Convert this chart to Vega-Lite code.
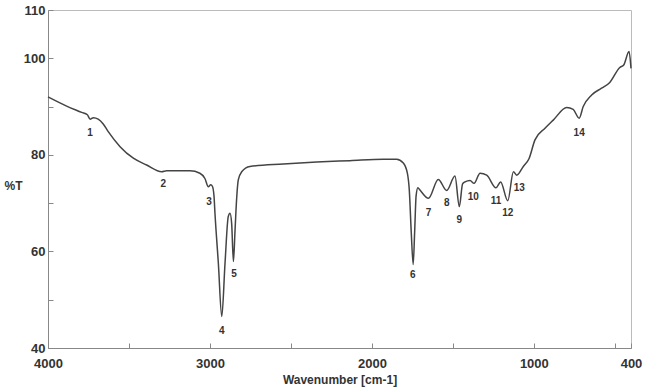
{
  "$schema": "https://vega.github.io/schema/vega-lite/v6.json",
  "width": 583,
  "height": 338,
  "autosize": {"type": "none"},
  "padding": {"left": 48, "top": 10, "right": 14, "bottom": 44},
  "background": "white",
  "config": {
    "view": {"stroke": "#bbbbbb", "strokeWidth": 1},
    "font": "Liberation Sans"
  },
  "datasets": {
    "spectrum": [
      {"wn": 4000, "t": 92.0}, {"wn": 3885, "t": 90.1}, {"wn": 3792, "t": 88.8}, {"wn": 3757, "t": 88.3},
      {"wn": 3740, "t": 87.4}, {"wn": 3720, "t": 87.7}, {"wn": 3690, "t": 87.4}, {"wn": 3659, "t": 86.4},
      {"wn": 3628, "t": 84.8}, {"wn": 3555, "t": 81.7}, {"wn": 3473, "t": 79.3}, {"wn": 3391, "t": 77.9},
      {"wn": 3298, "t": 76.5}, {"wn": 3267, "t": 76.7}, {"wn": 3123, "t": 76.7}, {"wn": 3062, "t": 76.2},
      {"wn": 3031, "t": 75.1}, {"wn": 3010, "t": 73.4}, {"wn": 2995, "t": 73.8}, {"wn": 2985, "t": 73.5},
      {"wn": 2975, "t": 71.5}, {"wn": 2969, "t": 67.9}, {"wn": 2948, "t": 57.5}, {"wn": 2927, "t": 46.5},
      {"wn": 2907, "t": 57.5}, {"wn": 2887, "t": 67.2}, {"wn": 2876, "t": 67.9}, {"wn": 2866, "t": 65.8},
      {"wn": 2855, "t": 57.9}, {"wn": 2845, "t": 64.4}, {"wn": 2835, "t": 71.0}, {"wn": 2825, "t": 74.8},
      {"wn": 2804, "t": 76.5}, {"wn": 2753, "t": 77.6}, {"wn": 2547, "t": 78.1}, {"wn": 2341, "t": 78.5},
      {"wn": 2135, "t": 78.8}, {"wn": 1929, "t": 79.1}, {"wn": 1847, "t": 79.1}, {"wn": 1806, "t": 78.3},
      {"wn": 1781, "t": 76.2}, {"wn": 1769, "t": 72.7}, {"wn": 1757, "t": 64.0}, {"wn": 1745, "t": 57.3},
      {"wn": 1736, "t": 64.0}, {"wn": 1727, "t": 71.5}, {"wn": 1716, "t": 73.2}, {"wn": 1703, "t": 72.7},
      {"wn": 1651, "t": 71.0}, {"wn": 1590, "t": 74.9}, {"wn": 1538, "t": 72.6}, {"wn": 1487, "t": 75.6},
      {"wn": 1460, "t": 69.3}, {"wn": 1440, "t": 74.0}, {"wn": 1425, "t": 74.4}, {"wn": 1394, "t": 74.7},
      {"wn": 1369, "t": 74.1}, {"wn": 1332, "t": 76.2}, {"wn": 1291, "t": 75.8}, {"wn": 1234, "t": 73.2},
      {"wn": 1205, "t": 74.4}, {"wn": 1161, "t": 70.5}, {"wn": 1126, "t": 76.5}, {"wn": 1106, "t": 75.8},
      {"wn": 1065, "t": 77.6}, {"wn": 1030, "t": 79.2}, {"wn": 993, "t": 83.1}, {"wn": 931, "t": 85.5},
      {"wn": 880, "t": 87.2}, {"wn": 797, "t": 89.8}, {"wn": 757, "t": 89.4}, {"wn": 720, "t": 87.6},
      {"wn": 695, "t": 90.0}, {"wn": 643, "t": 92.4}, {"wn": 582, "t": 93.8}, {"wn": 531, "t": 95.0},
      {"wn": 469, "t": 98.1}, {"wn": 445, "t": 98.6}, {"wn": 412, "t": 101.4}, {"wn": 400, "t": 97.9}
    ],
    "labels": [
      {"wn": 3740, "t": 84.5, "label": "1"}, {"wn": 3288, "t": 74.0, "label": "2"},
      {"wn": 3006, "t": 70.3, "label": "3"}, {"wn": 2927, "t": 43.6, "label": "4"},
      {"wn": 2851, "t": 55.3, "label": "5"}, {"wn": 1748, "t": 55.1, "label": "6"},
      {"wn": 1651, "t": 68.0, "label": "7"}, {"wn": 1538, "t": 70.0, "label": "8"},
      {"wn": 1460, "t": 66.5, "label": "9"}, {"wn": 1374, "t": 71.3, "label": "10"},
      {"wn": 1234, "t": 70.5, "label": "11"}, {"wn": 1161, "t": 67.9, "label": "12"},
      {"wn": 1090, "t": 73.2, "label": "13"}, {"wn": 720, "t": 84.6, "label": "14"}
    ]
  },
  "encoding": {
    "x": {
      "field": "wn", "type": "quantitative",
      "scale": {"domain": [400, 4000], "reverse": true, "nice": false, "zero": false},
      "axis": {
        "title": "Wavenumber [cm-1]",
        "values": [4000, 3500, 3000, 2500, 2000, 1500, 1000, 500, 400],
        "labelExpr": "indexof([4000,3000,2000,1000,400], datum.value) >= 0 ? datum.label : ''",
        "format": "d",
        "grid": false,
        "tickSize": -5,
        "tickColor": "#888888",
        "domainColor": "#888888",
        "labelFont": "Liberation Sans", "labelFontWeight": "bold", "labelFontSize": 13, "labelColor": "#333333",
        "labelPadding": 14, "labelFlush": false, "labelOverlap": false,
        "titleFont": "Liberation Sans", "titleFontWeight": "bold", "titleFontSize": 12, "titleColor": "#333333",
        "titlePadding": 4
      }
    },
    "y": {
      "field": "t", "type": "quantitative",
      "scale": {"domain": [40, 110], "nice": false, "zero": false},
      "axis": {
        "title": "%T",
        "values": [40, 50, 60, 70, 80, 90, 100, 110],
        "labelExpr": "indexof([40,60,80,100,110], datum.value) >= 0 ? datum.label : ''",
        "grid": false,
        "tickSize": -5,
        "tickColor": "#888888",
        "domainColor": "#888888",
        "labelFont": "Liberation Sans", "labelFontWeight": "bold", "labelFontSize": 13, "labelColor": "#333333",
        "labelPadding": 8, "labelFlush": false, "labelOverlap": false,
        "titleFont": "Liberation Sans", "titleFontWeight": "bold", "titleFontSize": 12, "titleColor": "#333333",
        "titleAngle": 0, "titleX": -35, "titleY": 175, "titleAlign": "center", "titleBaseline": "middle"
      }
    }
  },
  "layer": [
    {
      "data": {"name": "spectrum"},
      "mark": {"type": "line", "color": "#444444", "strokeWidth": 1.5, "interpolate": "monotone"}
    },
    {
      "data": {"name": "labels"},
      "mark": {"type": "text", "font": "Liberation Sans", "fontWeight": "bold", "fontSize": 10, "color": "#333333", "baseline": "middle", "align": "center"},
      "encoding": {"text": {"field": "label", "type": "nominal"}}
    }
  ]
}
